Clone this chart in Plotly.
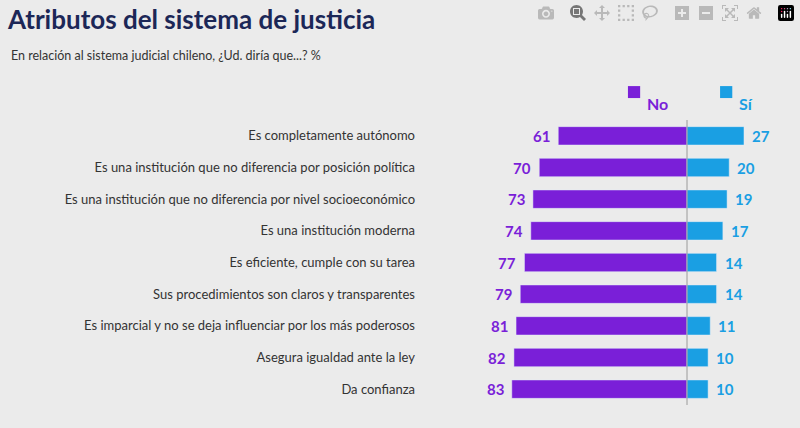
import plotly.graph_objects as go

categories = [
    "Es completamente autónomo",
    "Es una institución que no diferencia por posición política",
    "Es una institución que no diferencia por nivel socioeconómico",
    "Es una institución moderna",
    "Es eficiente, cumple con su tarea",
    "Sus procedimientos son claros y transparentes",
    "Es imparcial y no se deja influenciar por los más poderosos",
    "Asegura igualdad ante la ley",
    "Da confianza",
]
no_vals = [61, 70, 73, 74, 77, 79, 81, 82, 83]
si_vals = [27, 20, 19, 17, 14, 14, 11, 10, 10]

PURPLE = "#7a1fd8"
BLUE = "#1a9fe3"
BG = "#ebebeb"

fig = go.Figure()
fig.add_trace(go.Bar(y=categories, x=[-v for v in no_vals], orientation="h",
                     marker_color=PURPLE, width=0.58, hoverinfo="skip"))
fig.add_trace(go.Bar(y=categories, x=si_vals, orientation="h",
                     marker_color=BLUE, width=0.58, hoverinfo="skip"))

for c, n, s in zip(categories, no_vals, si_vals):
    fig.add_annotation(x=-n, y=c, text=f"<b>{n}</b>", showarrow=False,
                       xanchor="right", xshift=-6,
                       font=dict(color=PURPLE, size=15, family="Lato"))
    fig.add_annotation(x=s, y=c, text=f"<b>{s}</b>", showarrow=False,
                       xanchor="left", xshift=6,
                       font=dict(color=BLUE, size=15, family="Lato"))

# legend
for x0, col, txt in [(0.562, PURPLE, "No"), (0.811, BLUE, "Sí")]:
    fig.add_shape(type="rect", xref="paper", yref="paper",
                  x0=x0, x1=x0 + 0.033, y0=1.077, y1=1.119,
                  fillcolor=col, line_width=0)
    fig.add_annotation(xref="paper", yref="paper", x=x0 + 0.046, y=1.098,
                       text=f"<b>{txt}</b>", showarrow=False, xanchor="left",
                       font=dict(color=col, size=16, family="Lato"))

fig.add_shape(type="line", x0=0, x1=0, yref="paper", y0=0, y1=1,
              line=dict(color="#9a9a9a", width=1))

fig.update_layout(
    width=800, height=428, barmode="relative", showlegend=False,
    paper_bgcolor=BG, plot_bgcolor=BG,
    margin=dict(l=420, r=10, t=120, b=23),
    font=dict(family="Lato", color="#333333"),
    title=dict(text="<b>Atributos del sistema de justicia</b>", x=0.01, xanchor="left",
               y=0.975, font=dict(size=26, color="#1c2757", family="Lato")),
    xaxis=dict(range=[-126.5, 48.8], visible=False, fixedrange=True),
    yaxis=dict(autorange="reversed", showgrid=False, ticks="", ticklabelstandoff=4,
               tickfont=dict(size=13, color="#333333", family="Lato")),
)
fig.add_annotation(xref="paper", yref="paper", x=-1.11, y=1.26, xanchor="left",
                   text="En relación al sistema judicial chileno, ¿Ud. diría que...? %",
                   showarrow=False, font=dict(size=12.5, color="#333333", family="Lato"))

fig.write_html("out.html",
               post_script="document.body.style.margin='0';document.body.style.background='#ebebeb';")
